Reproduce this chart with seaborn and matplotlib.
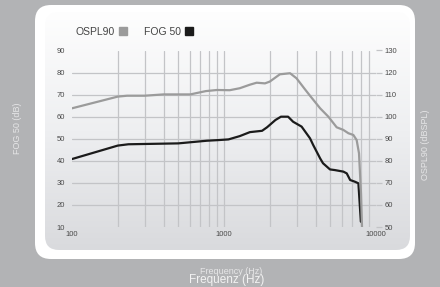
import seaborn as sns
import matplotlib.pyplot as plt
import numpy as np
import pandas as pd
from matplotlib.patches import FancyBboxPatch
from matplotlib.lines import Line2D
from matplotlib.colors import LinearSegmentedColormap

# OSPL90 curve (right axis, dBSPL)
ospl_freq = [100, 200, 230, 300, 400, 600, 760, 900, 1090, 1270, 1480, 1640, 1860, 2000,
             2330, 2720, 3000, 3410, 3680, 4290, 4860, 5510, 6100, 6580, 7100, 7460,
             7730, 7970, 8090]
ospl_val = [103.8, 109.1, 109.5, 109.5, 110.1, 110.1, 111.6, 112.1, 112.0, 112.9, 114.5,
            115.4, 115.1, 115.9, 119.2, 119.7, 117.4, 112.4, 109.5, 103.8, 100.0, 95.2,
            94.0, 92.5, 91.7, 89.4, 83.4, 65.0, 50.0]

# FOG 50 curve (left axis, dB)
fog_freq = [100, 200, 235, 500, 770, 920, 1070, 1270, 1480, 1780, 1920, 2180, 2370, 2640,
            2850, 3240, 3680, 3860, 4290, 4480, 4980, 5360, 6100, 6420, 6760, 7280, 7660,
            7950]
fog_val = [40.8, 46.9, 47.5, 47.9, 49.1, 49.4, 49.7, 51.2, 53.0, 53.6, 55.2, 58.5, 60.0,
           60.0, 57.7, 55.5, 50.2, 47.2, 41.1, 38.9, 36.1, 35.8, 35.1, 34.3, 31.3, 30.5,
           29.8, 12.4]

left_ticks = [10, 20, 30, 40, 50, 60, 70, 80, 90]
right_ticks = [50, 60, 70, 80, 90, 100, 110, 120, 130]
x_ticks = [100, 1000, 10000]
x_minor = [200, 300, 400, 500, 600, 700, 800, 900,
           2000, 3000, 4000, 5000, 6000, 7000, 8000, 9000]

sns.set_style("white")
plt.rcParams['font.family'] = ['Liberation Sans', 'DejaVu Sans']

W, H = 440, 287
fig = plt.figure(figsize=(W / 100, H / 100), dpi=100, facecolor='#b2b3b5')

# background panels: white rounded card with a grey gradient inside
bg = fig.add_axes([0, 0, 1, 1], zorder=0)
bg.set_xlim(0, W)
bg.set_ylim(H, 0)
bg.axis('off')
bg.add_patch(FancyBboxPatch((35, 5), 380, 254, boxstyle="round,pad=0,rounding_size=16",
                            fc='white', ec='none', zorder=1))
inner = FancyBboxPatch((45, 12), 365, 238, boxstyle="round,pad=0,rounding_size=14",
                       fc='none', ec='none')
bg.add_patch(inner)
grad = np.linspace(0, 1, 256).reshape(-1, 1)
cmap = LinearSegmentedColormap.from_list('g', ['#fefefe', '#eeeff1', '#d9dadd'])
img = bg.imshow(grad, extent=(45, 410, 250, 12), aspect='auto', cmap=cmap, zorder=2)
img.set_clip_path(inner)

ax = fig.add_axes([72 / W, 1 - 227 / H, (376 - 72) / W, (227 - 50.5) / H], zorder=1)
ax.patch.set_alpha(0)
ax2 = ax.twinx()
ax2.patch.set_alpha(0)

fog_df = pd.DataFrame({'freq': fog_freq, 'val': fog_val})
ospl_df = pd.DataFrame({'freq': ospl_freq, 'val': ospl_val})

sns.lineplot(data=fog_df, x='freq', y='val', ax=ax, color='#1b1b1b', lw=1.6, zorder=3)
sns.lineplot(data=ospl_df, x='freq', y='val', ax=ax2, color='#9b9b9b', lw=1.6, zorder=2)

ax.set_xscale('log')
ax.set_xlim(100, 10000)
ax.set_ylim(10, 90)
ax2.set_ylim(50, 130)
ax.set_xticks(x_ticks)
ax.set_xticklabels([str(t) for t in x_ticks])
ax.set_xticks(x_minor, minor=True)
ax.set_yticks(left_ticks)
ax2.set_yticks(right_ticks)
ax.set_xlabel('')
ax.set_ylabel('')
ax2.set_ylabel('')

grid_kw = dict(color='#c3c4c7', lw=0.9)
ax.grid(True, which='both', axis='x', **grid_kw)
ax.grid(True, which='major', axis='y', **grid_kw)
for gl in [ax.xaxis.get_gridlines()[0], ax.xaxis.get_gridlines()[-1],
           ax.yaxis.get_gridlines()[0], ax.yaxis.get_gridlines()[-1]]:
    gl.set_visible(False)
ax.set_axisbelow(True)

for a in (ax, ax2):
    for s in a.spines.values():
        s.set_visible(False)
ax.tick_params(axis='both', which='both', length=0, labelsize=5.5, labelcolor='#4a4a4a')
ax.tick_params(axis='y', pad=5)
ax.tick_params(axis='x', pad=3)
ax2.tick_params(axis='y', length=4, width=0.9, color='#c3c4c7', pad=2,
                labelsize=5.5, labelcolor='#4a4a4a')

# legend
handles = [Line2D([], [], ls='none', marker='s', ms=6, color='#9b9b9b'),
           Line2D([], [], ls='none', marker='s', ms=6, color='#1b1b1b')]
fig.legend(handles, ['OSPL90', 'FOG 50'], ncol=2, markerfirst=False, frameon=False,
           loc='center left', bbox_to_anchor=(70 / W, 1 - 32 / H), borderpad=0,
           handlelength=0.8, handletextpad=0.4, columnspacing=1.6,
           prop={'size': 7.5}, labelcolor='#444444')

# axis titles (the two x titles overlap in the original too)
lab_col = '#e6e6e7'
fig.text(17 / W, 1 - 128 / H, 'FOG 50 (dB)', rotation=90, ha='center', va='center',
         color=lab_col, fontsize=6.5)
fig.text(425 / W, 1 - 145 / H, 'OSPL90 (dBSPL)', rotation=90, ha='center', va='center',
         color=lab_col, fontsize=6.5)
fig.text(231 / W, 1 - 272 / H, 'Frequency (Hz)', ha='center', va='center',
         color=lab_col, fontsize=6.5)
fig.text(227 / W, 1 - 280 / H, 'Frequenz (Hz)', ha='center', va='center',
         color='#f2f2f2', fontsize=8.5)

plt.savefig('out.png', dpi=100, facecolor=fig.get_facecolor())
